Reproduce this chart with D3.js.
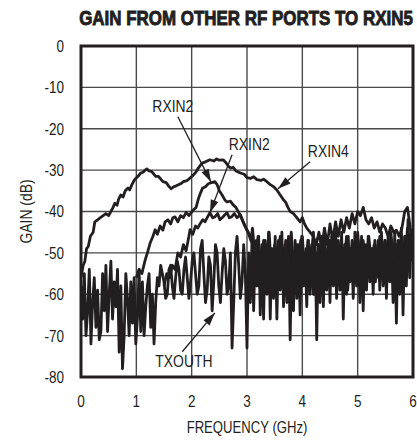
<!DOCTYPE html>
<html>
<head>
<meta charset="utf-8">
<script src="https://cdn.jsdelivr.net/npm/d3@7"></script>
<style>
  body { margin: 0; background: white; }
</style>
</head>
<body>
<div id="container"></div>
<script>
let w = 417;
let h = 440;

// axis ticks
let freqTicks = [0, 1, 2, 3, 4, 5, 6];
let gainTicks = [0, -10, -20, -30, -40, -50, -60, -70, -80];

// series, [GHz, dB]
let rxin4 = [
  [0,-56],[0.04,-53],[0.07,-52],[0.1,-49],[0.13,-48.5],[0.17,-46],[0.22,-45],[0.25,-42.5],[0.3,-42],[0.35,-41.5],
  [0.4,-41],[0.45,-40.5],[0.5,-41],[0.54,-40],[0.58,-39],[0.61,-38],[0.65,-38.5],[0.68,-37],[0.72,-36],[0.76,-36.5],
  [0.8,-35],[0.85,-34.3],[0.88,-34.8],[0.92,-33.5],[0.96,-32.5],[0.99,-32],[1.03,-31.5],[1.08,-30.7],[1.12,-30.5],[1.16,-30],
  [1.19,-29.7],[1.23,-30.2],[1.27,-30.3],[1.3,-30.7],[1.35,-31.5],[1.4,-31.5],[1.43,-32],[1.48,-32.8],[1.54,-33],[1.58,-33.8],
  [1.63,-34.5],[1.68,-34],[1.72,-33.8],[1.75,-33.6],[1.8,-33.3],[1.85,-32.8],[1.9,-32.6],[1.93,-32.4],[1.98,-31.8],[2.03,-31.2],
  [2.08,-30.4],[2.12,-29.5],[2.16,-28.8],[2.19,-28.3],[2.25,-28],[2.33,-27.5],[2.4,-27.8],[2.45,-27.3],[2.5,-27.6],[2.57,-27.5],
  [2.62,-28.2],[2.66,-29],[2.7,-29.5],[2.75,-29.3],[2.8,-30.2],[2.88,-30.7],[2.95,-31],[3.0,-31.8],[3.06,-32],[3.12,-31.6],
  [3.18,-32.3],[3.25,-32.5],[3.3,-32.2],[3.36,-32.8],[3.42,-33.5],[3.48,-34],[3.54,-34.8],[3.6,-36],[3.65,-37],[3.7,-37.8],
  [3.74,-39],[3.78,-40],[3.84,-40.5],[3.9,-41.5],[3.96,-42.5],[4.0,-41.5],[4.04,-43],[4.08,-44],[4.14,-45],[4.2,-46],
  [4.25,-48],[4.3,-45],[4.35,-49],[4.4,-44],[4.45,-48],[4.5,-43],[4.55,-47],[4.6,-42.5],[4.65,-46],[4.7,-42],
  [4.75,-45],[4.8,-41.5],[4.85,-44],[4.9,-40.5],[4.95,-43],[5.0,-40],[5.05,-41],[5.1,-39],[5.15,-42],[5.2,-43],
  [5.25,-41.5],[5.3,-44],[5.35,-42.5],[5.4,-45],[5.45,-43],[5.5,-44],[5.55,-46],[5.6,-43.5],[5.65,-45],[5.7,-44.5],
  [5.75,-46],[5.8,-44],[5.85,-40],[5.9,-39],[5.95,-44],[6.0,-47]
];

let rxin2a = [
  [1.0,-56],[1.05,-54],[1.1,-55],[1.16,-51.7],[1.2,-50],[1.25,-47.6],[1.3,-46],[1.34,-44.4],[1.38,-45.5],[1.43,-43.5],
  [1.48,-44.5],[1.52,-42.5],[1.57,-42],[1.62,-43],[1.66,-41.5],[1.7,-41.3],[1.75,-42.5],[1.8,-41],[1.85,-41.5],[1.9,-40.2],
  [1.95,-41],[1.99,-40.3],[2.04,-39.5],[2.08,-39],[2.12,-37],[2.16,-35.5],[2.2,-34.3],[2.25,-34],[2.3,-33.3],[2.36,-33],
  [2.42,-32.8],[2.46,-33.5],[2.5,-35],[2.55,-36],[2.6,-37.2],[2.64,-37.7],[2.7,-37.5],[2.75,-38.4],[2.8,-39],[2.84,-40],
  [2.88,-41],[2.93,-42.5],[2.98,-44],[3.02,-45],[3.07,-47],[3.1,-44],[3.15,-52],[3.2,-46],[3.25,-55],[3.3,-47],
  [3.35,-53],[3.4,-45],[3.45,-56],[3.5,-48],[3.55,-52],[3.6,-46],[3.65,-57],[3.7,-47],[3.75,-53],[3.8,-45],
  [3.85,-55],[3.9,-48],[3.95,-51],[4.0,-46],[4.05,-56],[4.1,-47],[4.15,-53],[4.2,-45],[4.25,-57],[4.3,-48],
  [4.35,-52],[4.4,-46],[4.45,-55],[4.5,-47],[4.55,-51],[4.6,-45],[4.65,-56],[4.7,-48],[4.75,-53],[4.8,-46],
  [4.85,-55],[4.9,-47],[4.95,-52],[5.0,-45],[5.05,-54],[5.1,-47],[5.15,-56],[5.2,-46],[5.25,-52],[5.3,-48],
  [5.35,-55],[5.4,-46],[5.45,-53],[5.5,-47],[5.55,-56],[5.6,-45],[5.65,-52],[5.7,-48],[5.75,-58],[5.8,-46],
  [5.85,-54],[5.9,-44],[5.95,-51],[6.0,-47]
];

let rxin2b = [
  [1.5,-58],[1.55,-55],[1.6,-56],[1.65,-53],[1.7,-54],[1.75,-50],[1.8,-51],[1.85,-48],[1.9,-49.5],[1.95,-46],
  [1.97,-44.4],[2.02,-45.5],[2.07,-43.5],[2.11,-44],[2.15,-43],[2.2,-42],[2.24,-42.5],[2.28,-41.5],[2.33,-40.3],[2.38,-41.5],
  [2.42,-41.3],[2.47,-40.5],[2.51,-42],[2.55,-41.5],[2.6,-40.8],[2.64,-40.3],[2.68,-41.5],[2.72,-41.3],[2.77,-40.5],[2.82,-41.5],
  [2.88,-40.8],[2.93,-42.5],[2.97,-43.7],[3.02,-45],[3.06,-46],[3.1,-48],[3.12,-53],[3.17,-47],[3.22,-58],[3.27,-49],
  [3.32,-55],[3.37,-48],[3.42,-59],[3.47,-50],[3.52,-54],[3.57,-47],[3.62,-58],[3.67,-49],[3.72,-56],[3.77,-48],
  [3.82,-60],[3.87,-50],[3.92,-55],[3.97,-47],[4.02,-57],[4.07,-49],[4.12,-54],[4.17,-48],[4.22,-60],[4.27,-50],
  [4.32,-55],[4.37,-47],[4.42,-58],[4.47,-49],[4.52,-53],[4.57,-46],[4.62,-57],[4.67,-50],[4.72,-55],[4.77,-48],
  [4.82,-59],[4.87,-49],[4.92,-54],[4.97,-47],[5.02,-56],[5.07,-50],[5.12,-58],[5.17,-48],[5.22,-54],[5.27,-49],
  [5.32,-57],[5.37,-47],[5.42,-55],[5.47,-50],[5.52,-58],[5.57,-48],[5.62,-54],[5.67,-49],[5.72,-57],[5.77,-47],
  [5.82,-55],[5.87,-46],[5.92,-53],[5.97,-45],[6.0,-50]
];

// TXOUTH sweep, one reading every 0.03 GHz from 0 GHz
let txouthStep = 0.03;
let txouth = [
  -58,-66,-55,-70,-64,-54,-72,-62,-56,-68,
  -59,-71,-69,-55,-64,-53,-69,-60,-52,-66,
  -57,-63,-54,-74,-58,-78,-70,-55,-61,-70,
  -57,-67,-56,-72,-66,-54,-69,-57,-70,-63,
  -58,-55,-68,-60,-72,-62,-56,-58,-53,-55,
  -57,-61,-60,-54,-53,-58,-61,-56,-52,-54,
  -59,-60,-54,-51,-56,-61,-57,-52,-50,-55,
  -60,-58,-49,-47,-55,-62,-59,-51,-53,-64,
  -57,-48,-50,-58,-62,-55,-49,-52,-60,-58,
  -50,-73,-62,-50,-46,-53,-61,-57,-48,-55,
  -73,-50,-62,-47,-64,-49,-58,-46,-65,-48,
  -66,-47,-60,-45,-66,-49,-61,-46,-66,-48,
  -59,-45,-63,-48,-62,-46,-71,-49,-64,-47,
  -61,-48,-65,-46,-58,-50,-63,-47,-60,-49,
  -60,-47,-71,-48,-62,-46,-63,-49,-59,-47,
  -62,-46,-58,-48,-61,-47,-59,-45,-66,-48,
  -60,-46,-57,-49,-61,-45,-58,-47,-62,-46,
  -64,-48,-59,-46,-57,-49,-60,-47,-56,-48,
  -59,-45,-58,-47,-61,-46,-57,-48,-62,-45,
  -67,-47,-60,-44,-65,-46,-58,-42,-56,-45,-52
];

// callouts in data units: text spot, arrow start, arrow tip
let callouts = [
  {label: "RXIN2",  text: [1.66, -15.9], from: [1.75, -17.1], to: [2.35, -32.9]},
  {label: "RXIN2",  text: [3.04, -25.1], from: [2.73, -26.3], to: [2.33, -40.3]},
  {label: "RXIN4",  text: [4.47, -26.8], from: [4.14, -28.0], to: [3.56, -34.5]},
  {label: "TXOUTH", text: [1.86, -77.5], from: [1.83, -73.9], to: [2.42, -64.5]}
];

let ink = "#231f20";
let font = "'Liberation Sans', Arial, sans-serif";
let narrow = 0.82; // squeeze Arial-like glyphs to a narrow face

let x = d3.scaleLinear().domain([0, 6]).range([81, 413]);
let y = d3.scaleLinear().domain([0, -80]).range([46, 377]);

let viz = d3.select("#container")
  .append("svg")
    .attr("width", w)
    .attr("height", h)
    .style("background-color", "white")
;

viz.append("defs")
  .append("clipPath")
    .attr("id", "plotClip")
  .append("rect")
    .attr("x", x(0))
    .attr("y", y(0))
    .attr("width", x(6) - x(0))
    .attr("height", y(-80) - y(0))
;

function place(px, py, extra){
  return "translate(" + px + "," + py + ")" + (extra || "") + " scale(" + narrow + ",1)";
}

// title, squeezed to span the plot
let title = viz.append("text")
    .text("GAIN FROM OTHER RF PORTS TO RXIN5")
    .attr("text-anchor", "middle")
    .attr("fill", ink)
    .style("stroke", ink)
    .style("stroke-width", 0.9)
    .style("font-size", "20px")
    .style("font-weight", "bold")
    .style("font-family", font)
;
let titleScale = 334 / title.node().getComputedTextLength();
title.attr("transform", "translate(246,25) scale(" + titleScale + ",1)");

// grid
viz.append("g")
  .selectAll("line")
  .data(freqTicks.slice(1, -1))
  .join("line")
    .attr("x1", d => x(d))
    .attr("x2", d => x(d))
    .attr("y1", y(0))
    .attr("y2", y(-80))
    .style("stroke", "#4a4a4a")
    .style("stroke-width", 1.4)
;

viz.append("g")
  .selectAll("line")
  .data(gainTicks.slice(1, -1))
  .join("line")
    .attr("x1", x(0))
    .attr("x2", x(6))
    .attr("y1", d => y(d))
    .attr("y2", d => y(d))
    .style("stroke", "#4a4a4a")
    .style("stroke-width", 1.4)
;

// tick labels
viz.append("g")
  .selectAll("text")
  .data(gainTicks)
  .join("text")
    .text(d => d)
    .attr("transform", d => place(64, y(d)))
    .attr("dy", "0.36em")
    .attr("text-anchor", "end")
    .attr("fill", ink)
    .style("font-size", "16.5px")
    .style("font-family", font)
;

viz.append("g")
  .selectAll("text")
  .data(freqTicks)
  .join("text")
    .text(d => d)
    .attr("transform", d => place(x(d), 407))
    .attr("text-anchor", "middle")
    .attr("fill", ink)
    .style("font-size", "16.5px")
    .style("font-family", font)
;

viz.append("text")
    .text("FREQUENCY (GHz)")
    .attr("transform", place((x(0) + x(6)) / 2, 433))
    .attr("text-anchor", "middle")
    .attr("fill", ink)
    .style("font-size", "16px")
    .style("font-family", font)
;

viz.append("text")
    .text("GAIN (dB)")
    .attr("transform", place(32, (y(0) + y(-80)) / 2, " rotate(-90)"))
    .attr("text-anchor", "middle")
    .attr("fill", ink)
    .style("font-size", "17px")
    .style("font-family", font)
;

// traces
let line = d3.line()
  .x(d => x(d[0]))
  .y(d => y(d[1]))
;

let traces = [
  txouth.map((v, i) => [i * txouthStep, v]),
  rxin2b,
  rxin2a,
  rxin4
];

viz.append("g")
    .attr("clip-path", "url(#plotClip)")
  .selectAll("path")
  .data(traces)
  .join("path")
    .attr("d", line)
    .attr("fill", "none")
    .style("stroke", ink)
    .style("stroke-width", 2.8)
    .style("stroke-linejoin", "round")
;

// frame
viz.append("rect")
    .attr("x", x(0))
    .attr("y", y(0))
    .attr("width", x(6) - x(0))
    .attr("height", y(-80) - y(0))
    .attr("fill", "none")
    .style("stroke", ink)
    .style("stroke-width", 3)
;

// callouts
let callout = viz.append("g")
  .selectAll("g")
  .data(callouts)
  .join("g")
;

callout.append("line")
    .attr("x1", d => x(d.from[0]))
    .attr("y1", d => y(d.from[1]))
    .attr("x2", d => x(d.to[0]))
    .attr("y2", d => y(d.to[1]))
    .style("stroke", ink)
    .style("stroke-width", 1.3)
;

callout.append("path")
    .attr("d", "M 0 0 L -13 -4 L -13 4 Z")
    .attr("transform", d => {
      let tx = x(d.to[0]);
      let ty = y(d.to[1]);
      let a = Math.atan2(ty - y(d.from[1]), tx - x(d.from[0])) * 180 / Math.PI;
      return "translate(" + tx + "," + ty + ") rotate(" + a + ")";
    })
    .attr("fill", ink)
;

callout.append("text")
    .text(d => d.label)
    .attr("transform", d => place(x(d.text[0]), y(d.text[1])))
    .attr("text-anchor", "middle")
    .attr("fill", ink)
    .style("font-size", "17px")
    .style("font-family", font)
;
</script>
</body>
</html>
